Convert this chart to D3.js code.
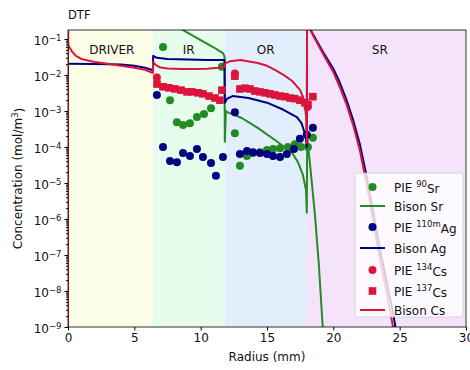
<!DOCTYPE html>
<html>
<head>
<meta charset="utf-8">
<script src="https://cdn.jsdelivr.net/npm/d3@7"></script>
<style>
  body { margin: 0; background: #fff; }
  text { font-family: "DejaVu Sans", sans-serif; }
</style>
</head>
<body>
<div id="chart"></div>
<script>
// fuel zones (mm) and their labels
var zones = [
  {name: "DRIVER", r0: 0,    r1: 6.4,  fill: "#fbfde6", labelR: 3.3},
  {name: "IR",     r0: 6.4,  r1: 11.8, fill: "#e6fcec", labelR: 9.1},
  {name: "OR",     r0: 11.8, r1: 18.0, fill: "#e3eefc", labelR: 14.9},
  {name: "SR",     r0: 18.0, r1: 30,   fill: "#f5e3fc", labelR: 23.5}
];

var xTicks = [0, 5, 10, 15, 20, 25, 30];
var yExponents = [-9, -8, -7, -6, -5, -4, -3, -2, -1];

// PIE measurements [radius, concentration]
var pieSr90 = [
  [7.16, 6.0e-2], [7.69, 2.0e-3], [8.21, 4.9e-4], [8.67, 4.1e-4], [9.19, 4.6e-4],
  [9.72, 6.8e-4], [10.25, 8.3e-4], [10.78, 1.2e-3], [11.6, 1.7e-2],
  [12.58, 2.4e-4], [12.96, 3.0e-5], [13.49, 5.6e-5], [13.94, 6.8e-5], [14.47, 7.2e-5],
  [15.0, 8.3e-5], [15.45, 8.8e-5], [15.98, 9.3e-5], [16.58, 1.0e-4], [17.1, 1.2e-4],
  [17.56, 1.0e-4], [18.09, 1.0e-4], [18.46, 1.8e-4]
];
var pieAg110m = [
  [6.7, 2.8e-3], [7.16, 1.0e-4], [7.69, 4.1e-5], [8.21, 3.8e-5], [8.67, 6.8e-5],
  [9.19, 5.6e-5], [9.72, 8.8e-5], [10.17, 5.3e-5], [10.78, 3.6e-5], [11.15, 1.6e-5],
  [11.68, 5.3e-5],
  [12.58, 9.3e-4], [12.96, 6.4e-5], [13.49, 7.8e-5], [13.94, 7.2e-5], [14.47, 6.8e-5],
  [15.0, 6.4e-5], [15.45, 5.6e-5], [15.98, 5.3e-5], [16.5, 6.4e-5], [17.03, 8.8e-5],
  [17.48, 1.7e-4], [18.0, 2.2e-4], [18.46, 3.4e-4]
];
var pieCs134 = [
  [6.7, 8.5e-3], [12.58, 1.1e-2], [18.05, 1.3e-3]
];
var pieCs137 = [
  [6.71, 5.6e-3], [7.16, 4.7e-3], [7.61, 4.4e-3], [8.06, 4.1e-3], [8.52, 3.8e-3],
  [8.97, 3.4e-3], [9.34, 3.4e-3], [9.8, 3.2e-3], [10.17, 3.0e-3], [10.63, 2.6e-3],
  [11.08, 2.3e-3], [11.45, 2.0e-3], [11.6, 3.8e-3],
  [12.58, 9.3e-3], [12.96, 4.1e-3], [13.34, 4.3e-3], [13.72, 4.1e-3], [14.09, 3.6e-3],
  [14.47, 3.4e-3], [14.85, 3.2e-3], [15.22, 3.0e-3], [15.6, 2.8e-3], [15.98, 2.6e-3],
  [16.35, 2.5e-3], [16.73, 2.3e-3], [17.1, 2.2e-3], [17.48, 2.0e-3], [17.86, 1.7e-3],
  [18.09, 1.5e-3], [18.46, 2.5e-3]
];

// Bison profiles [radius, concentration]
var bisonSr = [
  [0, 3], [6.4, 2], [6.42, 0.6], [8.0, 0.25], [9.0, 0.15], [10.0, 0.093], [11.0, 0.058],
  [11.7, 0.04], [11.8, 0.032], [11.82, 1.4e-4], [11.9, 1.0e-3], [12.0, 9.3e-4],
  [13.1, 6.4e-4], [14.3, 3.4e-4], [15.6, 1.56e-4], [16.9, 6.8e-5], [17.33, 3.8e-5],
  [17.7, 1.7e-5], [17.94, 6.4e-6], [18.0, 1.5e-6], [18.03, 2e-4], [18.3, 2e-5],
  [18.6, 1.5e-6], [18.9, 6e-8], [19.2, 1e-9], [19.3, 3e-10]
];
var bisonAg = [
  [0, 0.0205], [2, 0.0203], [4, 0.0195], [5, 0.018], [5.8, 0.016], [6.35, 0.0138],
  [6.4, 0.0138], [6.42, 0.034], [6.7, 0.03], [7.5, 0.028], [9, 0.027], [10.5, 0.026],
  [11.8, 0.026], [11.82, 1.7e-3], [12.0, 2.2e-3], [12.4, 2.6e-3], [13.6, 2.3e-3],
  [15.0, 1.7e-3], [16.2, 1.1e-3], [17.25, 6.8e-4], [17.6, 4.6e-4], [17.85, 2.4e-4],
  [17.95, 1.5e-4], [18.0, 1e-4], [18.02, 0.5], [18.05, 0.25], [18.5, 0.13],
  [19.2, 0.045], [20.0, 0.015], [20.5, 6e-3], [21.0, 2e-3], [21.5, 5.5e-4],
  [22.0, 1.2e-4], [22.5, 1.6e-5], [23.0, 1.6e-6], [23.5, 1.5e-7], [24.0, 2e-8],
  [24.5, 2.5e-9], [25.0, 2e-10]
];
var bisonCs = [
  [0, 1e-12], [0, 0.5], [0.02, 0.07], [0.1, 0.06], [0.3, 0.045], [0.6, 0.034],
  [1.0, 0.028], [2.0, 0.023], [3.0, 0.0205], [4.0, 0.018], [5.0, 0.0158], [5.8, 0.014],
  [6.4, 0.0114], [6.42, 0.023], [6.6, 0.019], [6.9, 0.0165], [7.5, 0.0152],
  [8.5, 0.0146], [9.5, 0.0146], [10.5, 0.015], [11.3, 0.0158], [11.8, 0.0165],
  [11.85, 0.021], [12.2, 0.024], [13.0, 0.026], [14.3, 0.0215], [15.0, 0.018],
  [15.6, 0.0138], [16.3, 0.0098], [16.9, 0.0068], [17.5, 0.0038], [17.8, 0.002],
  [17.95, 7e-4], [18.0, 1.3e-4], [18.02, 0.5], [18.05, 0.25], [18.5, 0.12],
  [19.2, 0.04], [20.0, 0.012], [20.5, 4.5e-3], [21.0, 1.5e-3], [21.5, 4e-4],
  [22.0, 8e-5], [22.5, 1e-5], [23.0, 9e-7], [23.5, 8e-8], [24.0, 1e-8],
  [24.5, 1e-9], [24.7, 3e-10]
];

var green = "#228b22", navy = "#000080", crimson = "#dc143c";

// legend rows: marker type, colour, label pieces [before, superscript, after]
var legendItems = [
  {kind: "circle", color: green,   text: ["PIE ", "90", "Sr"]},
  {kind: "line",   color: green,   text: ["Bison Sr", "", ""]},
  {kind: "circle", color: navy,    text: ["PIE ", "110m", "Ag"]},
  {kind: "line",   color: navy,    text: ["Bison Ag", "", ""]},
  {kind: "circle", color: crimson, text: ["PIE ", "134", "Cs"]},
  {kind: "square", color: crimson, text: ["PIE ", "137", "Cs"]},
  {kind: "line",   color: crimson, text: ["Bison Cs", "", ""]}
];

// set the dimensions and margins of the graph
var W = 470, H = 370;
var margin = {top: 30, right: 4, bottom: 43, left: 68},
    width = W - margin.left - margin.right,
    height = H - margin.top - margin.bottom;
var fs = "12px", supFs = "8.5px";

var svg = d3.select("#chart")
  .append("svg")
    .attr("width", W)
    .attr("height", H)
  .append("g")
    .attr("transform", "translate(" + margin.left + "," + margin.top + ")");

var x = d3.scaleLinear().domain([0, 30]).range([0, width]);
var y = d3.scaleLog().domain([1e-9, Math.pow(10, -0.75)]).range([height, 0]);

svg.append("clipPath").attr("id", "plotclip")
  .append("rect").attr("width", width).attr("height", height);

// zone backgrounds
svg.selectAll(".zone")
  .data(zones)
  .enter()
  .append("rect")
    .attr("x", function (d) { return x(d.r0); })
    .attr("y", 0)
    .attr("width", function (d) { return x(d.r1) - x(d.r0); })
    .attr("height", height)
    .style("fill", function (d) { return d.fill; });

svg.selectAll(".zonelabel")
  .data(zones)
  .enter()
  .append("text")
    .attr("x", function (d) { return x(d.labelR); })
    .attr("y", 24)
    .attr("text-anchor", "middle")
    .attr("font-size", fs)
    .style("fill", "#111")
    .text(function (d) { return d.name; });

var plot = svg.append("g").attr("clip-path", "url(#plotclip)");

var line = d3.line()
  .x(function (d) { return x(d[0]); })
  .y(function (d) { return y(d[1]); });

function drawDots(data, color, square) {
  var g = plot.append("g");
  if (square) {
    g.selectAll("rect").data(data).enter().append("rect")
      .attr("x", function (d) { return x(d[0]) - 3.8; })
      .attr("y", function (d) { return y(d[1]) - 3.8; })
      .attr("width", 7.6).attr("height", 7.6)
      .style("fill", color);
  } else {
    g.selectAll("circle").data(data).enter().append("circle")
      .attr("cx", function (d) { return x(d[0]); })
      .attr("cy", function (d) { return y(d[1]); })
      .attr("r", 4)
      .style("fill", color);
  }
}

function drawLine(data, color) {
  plot.append("path")
    .datum(data)
    .attr("d", line)
    .style("fill", "none")
    .style("stroke", color)
    .style("stroke-width", 2)
    .style("stroke-linejoin", "round");
}

drawDots(pieSr90, green, false);
drawLine(bisonSr, green);
drawDots(pieAg110m, navy, false);
drawLine(bisonAg, navy);
drawDots(pieCs134, crimson, false);
drawDots(pieCs137, crimson, true);
drawLine(bisonCs, crimson);

// X axis
svg.append("g")
  .attr("transform", "translate(0," + height + ")")
  .call(d3.axisBottom(x).tickValues(xTicks).tickSize(3.5).tickPadding(3))
  .call(function (g) { g.select(".domain").remove(); })
  .selectAll("text").attr("font-size", fs).style("fill", "#111");

// Y axis, major decades plus minor ticks
var majors = yExponents.map(function (e) { return Math.pow(10, e); });
var minors = [];
yExponents.forEach(function (e) {
  for (var k = 2; k <= 9; k++) {
    var v = k * Math.pow(10, e);
    if (v <= y.domain()[1]) minors.push(v);
  }
});

svg.append("g")
  .call(d3.axisLeft(y).tickValues(minors).tickSize(2).tickFormat(""))
  .call(function (g) { g.select(".domain").remove(); });

var yAxis = svg.append("g")
  .call(d3.axisLeft(y).tickValues(majors).tickSize(3.5).tickPadding(3))
  .call(function (g) { g.select(".domain").remove(); });

yAxis.selectAll(".tick text")
  .attr("font-size", fs)
  .attr("dy", "0.45em")
  .style("fill", "#111")
  .text(null)
  .each(function (d) {
    var t = d3.select(this);
    t.append("tspan").text("10");
    t.append("tspan").attr("dy", "-0.5em").attr("font-size", supFs)
      .text("\u2212" + Math.round(-Math.log10(d)));
  });

// frame
svg.append("rect")
  .attr("width", width).attr("height", height)
  .style("fill", "none").style("stroke", "#000").style("stroke-width", 0.8);

// axis labels
svg.append("text")
  .attr("x", width / 2)
  .attr("y", height + 34)
  .attr("text-anchor", "middle")
  .attr("font-size", fs)
  .style("fill", "#111")
  .text("Radius (mm)");

var ylab = svg.append("text")
  .attr("transform", "rotate(-90)")
  .attr("x", -height / 2)
  .attr("y", -46)
  .attr("text-anchor", "middle")
  .attr("font-size", fs)
  .style("fill", "#111");
ylab.append("tspan").text("Concentration (mol/m");
ylab.append("tspan").attr("dy", "-0.45em").attr("font-size", supFs).text("3");
ylab.append("tspan").attr("dy", "0.45em").text(")");

svg.append("text")
  .attr("x", 0)
  .attr("y", -11)
  .attr("font-size", "11.5px")
  .style("fill", "#111")
  .text("DTF");

// legend
var lg = svg.append("g").attr("transform", "translate(" + (355 - margin.left) + "," + (173 - margin.top) + ")");
lg.append("rect")
  .attr("width", 108).attr("height", 144).attr("rx", 2.5)
  .style("fill", "#fff").style("fill-opacity", 0.8)
  .style("stroke", "#ccc").style("stroke-width", 0.8);

var rowY = [14, 33, 54, 75, 97, 118, 137];
legendItems.forEach(function (it, i) {
  var row = lg.append("g").attr("transform", "translate(0," + rowY[i] + ")");
  if (it.kind === "line") {
    row.append("line").attr("x1", 5).attr("x2", 30).attr("y1", 0).attr("y2", 0)
      .style("stroke", it.color).style("stroke-width", 2);
  } else if (it.kind === "square") {
    row.append("rect").attr("x", 13.7).attr("y", -3.8).attr("width", 7.6).attr("height", 7.6)
      .style("fill", it.color);
  } else {
    row.append("circle").attr("cx", 17.5).attr("cy", 0).attr("r", 4).style("fill", it.color);
  }
  var t = row.append("text").attr("x", 39).attr("y", 4.5)
    .attr("font-size", fs).style("fill", "#111");
  t.append("tspan").text(it.text[0]);
  if (it.text[1]) {
    t.append("tspan").attr("dy", "-0.5em").attr("font-size", supFs).text(it.text[1]);
    t.append("tspan").attr("dy", "0.5em").text(it.text[2]);
  }
});
</script>
</body>
</html>
